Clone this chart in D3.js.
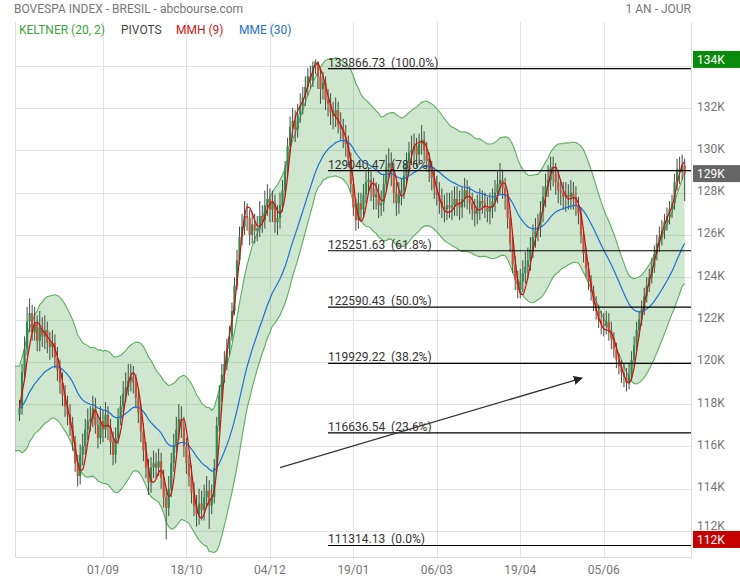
<!DOCTYPE html>
<html><head><meta charset="utf-8">
<script src="https://cdn.jsdelivr.net/npm/d3@7/dist/d3.min.js"></script>
<style>
body{margin:0;background:#fff;}
svg{display:block;font-family:Roboto,"Noto Sans",sans-serif;}
</style>
</head><body>
<svg id="chart" width="740" height="580"></svg>
<script>
// ---------- DATA (prices in thousands of points) ----------
const title = "BOVESPA INDEX - BRESIL - abcbourse.com";
const period = "1 AN - JOUR";
const tickLabels = ["01/09","18/10","04/12","19/01","06/03","19/04","05/06"];
const tickIndex  = [33,66,99,132,165,198,231];
const yGridValues = [112,114,116,118,120,122,124,126,128,130,132,134];
const yLabelValues = [112,114,116,118,120,122,124,126,128,130,132];

const opens = [117.5,117.8,119.5,120.6,121.9,122.3,121.4,121.8,121.0,121.6,
121.2,121.5,120.9,120.7,120.9,120.2,119.6,119.0,118.4,117.9,
117.5,117.0,116.2,115.2,114.6,115.6,116.0,116.8,117.2,117.3,
117.8,117.0,116.4,117.2,116.8,117.5,116.9,116.2,115.6,116.4,
117.3,117.9,118.5,118.8,119.1,119.3,119.0,118.3,117.6,116.7,
115.8,115.0,114.3,115.0,115.2,115.0,115.3,114.5,113.6,113.1,
114.0,115.2,116.0,116.8,117.3,116.9,116.0,115.2,114.6,113.8,
113.2,112.8,113.3,113.0,113.6,113.9,113.2,113.6,115.0,117.0,
118.4,119.4,119.9,120.6,121.2,122.4,123.6,124.8,125.9,126.4,
126.9,126.8,126.0,126.5,126.2,126.3,126.9,126.7,127.4,127.7,
127.2,127.5,126.6,126.8,127.4,128.1,129.0,130.2,131.1,131.4,
131.0,131.7,132.1,132.5,133.0,133.5,133.3,134.0,134.2,133.5,
132.9,133.2,132.4,132.2,131.8,131.6,131.9,131.2,131.0,130.6,
130.3,129.6,128.4,127.3,126.7,127.5,127.2,127.9,128.5,128.6,
128.2,127.8,127.9,127.4,127.5,128.4,129.2,129.4,128.9,128.0,
127.5,127.9,128.1,128.8,129.4,129.9,130.0,130.2,129.8,130.3,
130.5,130.0,129.5,129.0,128.7,128.2,127.9,127.6,127.3,127.2,
127.4,127.3,127.4,127.7,127.5,127.3,127.7,128.1,127.8,127.5,
127.2,127.0,127.3,127.6,127.5,127.3,127.1,127.3,127.6,128.0,
128.4,128.6,128.2,127.8,126.8,125.6,124.6,123.9,123.4,123.8,
124.2,124.5,124.8,125.3,125.9,126.2,126.4,127.1,127.8,128.3,
128.6,129.2,128.9,128.5,128.1,128.0,127.8,127.9,127.8,128.0,
127.8,127.4,127.0,126.0,125.1,124.4,123.8,123.3,122.8,122.4,
122.0,121.8,121.7,121.9,121.5,121.1,120.6,120.1,119.8,119.5,
119.3,119.0,119.4,120.1,120.8,121.5,122.0,122.5,123.1,123.6,
124.0,124.5,125.1,125.6,125.9,126.2,126.6,126.9,127.2,127.5,
128.5,129.1,129.0,129.3];

const highs = [118.2,119.9,121.2,122.6,123.0,122.7,122.6,122.2,122.4,122.1,
122.2,121.9,121.4,121.5,121.3,120.7,120.1,119.5,118.9,118.4,
118.0,117.4,116.5,115.6,116.1,116.6,117.3,117.8,117.9,118.4,
118.3,117.5,117.9,117.7,118.1,117.9,117.3,116.7,116.9,117.8,
118.4,119.1,119.5,119.9,119.9,119.8,119.4,118.7,118.0,117.1,
116.2,115.4,115.5,115.8,115.7,115.9,115.7,114.9,114.0,114.6,
115.7,116.6,117.4,118.0,117.9,117.4,116.4,115.6,115.1,114.3,
113.7,114.0,113.9,114.2,114.6,114.4,114.2,115.4,117.4,118.9,
119.9,120.5,121.1,121.7,122.8,124.0,125.3,126.4,127.0,127.6,
127.5,127.2,127.1,127.0,126.9,127.6,127.4,128.1,128.4,128.2,
128.1,127.9,127.4,128.0,128.6,129.5,130.6,131.6,132.0,131.9,
132.2,132.7,133.0,133.5,133.9,134.0,134.2,134.3,134.2,133.8,
133.7,133.5,132.9,132.7,132.3,132.5,132.3,131.8,131.5,131.2,
130.7,129.9,128.7,127.7,128.0,128.0,128.4,129.0,129.2,129.0,
128.7,128.5,128.4,128.1,128.9,129.8,130.1,129.9,129.4,128.5,
128.5,128.7,129.4,129.9,130.4,130.7,130.8,130.6,130.8,131.2,
130.9,130.4,129.9,129.5,129.2,128.8,128.5,128.2,127.9,128.0,
128.0,128.1,128.3,128.3,128.1,128.3,128.7,128.6,128.3,128.0,
127.7,127.9,128.2,128.1,128.0,127.8,128.0,128.2,128.6,129.0,
129.4,129.1,128.7,128.1,127.1,125.9,125.0,124.3,124.4,124.8,
125.2,125.4,125.9,126.5,126.8,127.0,127.6,128.3,128.9,129.3,
129.7,129.7,129.4,129.0,128.6,128.5,128.5,128.4,128.6,128.5,
128.3,127.8,127.3,126.3,125.4,124.7,124.1,123.6,123.1,122.7,
122.4,122.3,122.4,122.3,121.9,121.4,120.9,120.4,120.1,119.9,
119.7,119.9,120.5,121.2,121.9,122.4,122.9,123.5,124.0,124.4,
124.9,125.5,126.0,126.4,126.7,127.0,127.3,127.6,127.9,128.9,
129.6,129.7,129.8,129.6];

const lows = [117.2,117.5,119.2,120.3,121.4,121.0,121.0,120.5,120.5,120.7,
120.6,120.4,120.1,120.2,119.7,119.1,118.5,117.9,117.4,117.0,
116.5,115.8,114.8,114.1,114.2,115.1,115.6,116.3,116.7,116.9,
116.6,115.9,116.1,116.2,116.4,116.3,115.6,115.1,115.2,116.1,
117.0,117.6,118.1,118.4,118.6,118.5,117.8,117.1,116.2,115.3,
114.5,113.7,113.8,114.5,114.5,114.6,114.0,113.1,111.6,112.7,
113.6,114.8,115.7,116.3,116.4,115.5,114.7,114.1,113.3,112.7,
112.2,112.3,112.5,112.5,113.1,112.1,112.8,113.3,114.8,116.7,
118.1,119.0,119.6,120.3,121.0,122.2,123.4,124.6,125.5,126.0,
126.2,125.5,125.6,125.6,125.7,125.9,126.1,126.3,126.9,126.6,
126.6,126.1,126.0,126.3,127.1,127.8,128.8,129.9,130.6,130.4,
130.6,131.3,131.7,132.1,132.6,132.9,133.0,133.6,132.9,132.2,
132.4,131.9,131.6,131.2,131.0,131.1,130.8,130.5,130.1,129.7,
129.2,128.0,126.9,126.2,126.3,126.7,126.9,127.5,128.0,127.6,
127.2,127.2,126.8,126.9,127.1,128.1,128.7,128.3,127.5,126.9,
127.0,127.4,127.7,128.4,128.9,129.3,129.4,129.2,129.3,129.8,
129.5,129.0,128.5,128.1,127.7,127.4,127.0,126.8,126.6,126.7,
126.8,126.7,126.9,126.9,126.7,126.8,127.3,127.2,127.0,126.7,
126.4,126.5,126.7,127.0,126.8,126.6,126.5,126.8,127.1,127.5,
127.9,127.7,127.2,126.3,125.2,124.2,123.4,123.0,123.0,123.3,
123.7,123.9,124.3,124.9,125.4,125.7,125.9,126.6,127.3,127.8,
128.1,128.3,127.9,127.5,127.4,127.2,127.1,127.2,127.2,127.2,
126.9,126.5,125.6,124.7,124.0,123.4,122.9,122.4,122.0,121.6,
121.3,121.2,121.3,121.0,120.6,120.2,119.7,119.4,119.0,118.8,
118.6,118.7,119.1,119.8,120.5,121.2,121.7,122.2,122.8,123.3,
123.7,124.2,124.8,125.2,125.5,125.8,126.2,126.5,126.8,127.2,
128.1,128.4,128.6,127.6];

const closes = [117.8,119.5,120.6,121.9,122.3,121.4,121.8,121.0,121.6,121.2,
121.5,120.9,120.7,120.9,120.2,119.6,119.0,118.4,117.9,117.5,
117.0,116.2,115.2,114.6,115.6,116.0,116.8,117.2,117.3,117.8,
117.0,116.4,117.2,116.8,117.5,116.9,116.2,115.6,116.4,117.3,
117.9,118.5,118.8,119.1,119.3,119.0,118.3,117.6,116.7,115.8,
115.0,114.3,115.0,115.2,115.0,115.3,114.5,113.6,113.1,114.0,
115.2,116.0,116.8,117.3,116.9,116.0,115.2,114.6,113.8,113.2,
112.8,113.3,113.0,113.6,113.9,113.2,113.6,115.0,117.0,118.4,
119.4,119.9,120.6,121.2,122.4,123.6,124.8,125.9,126.4,126.9,
126.8,126.0,126.5,126.2,126.3,126.9,126.7,127.4,127.7,127.2,
127.5,126.6,126.8,127.4,128.1,129.0,130.2,131.1,131.4,131.0,
131.7,132.1,132.5,133.0,133.5,133.3,134.0,134.2,133.5,132.9,
133.2,132.4,132.2,131.8,131.6,131.9,131.2,131.0,130.6,130.3,
129.6,128.4,127.3,126.7,127.5,127.2,127.9,128.5,128.6,128.2,
127.8,127.9,127.4,127.5,128.4,129.2,129.4,128.9,128.0,127.5,
127.9,128.1,128.8,129.4,129.9,130.0,130.2,129.8,130.3,130.5,
130.0,129.5,129.0,128.7,128.2,127.9,127.6,127.3,127.2,127.4,
127.3,127.4,127.7,127.5,127.3,127.7,128.1,127.8,127.5,127.2,
127.0,127.3,127.6,127.5,127.3,127.1,127.3,127.6,128.0,128.4,
128.6,128.2,127.8,126.8,125.6,124.6,123.9,123.4,123.8,124.2,
124.5,124.8,125.3,125.9,126.2,126.4,127.1,127.8,128.3,128.6,
129.2,128.9,128.5,128.1,128.0,127.8,127.9,127.8,128.0,127.8,
127.4,127.0,126.0,125.1,124.4,123.8,123.3,122.8,122.4,122.0,
121.8,121.7,121.9,121.5,121.1,120.6,120.1,119.8,119.5,119.3,
119.0,119.4,120.1,120.8,121.5,122.0,122.5,123.1,123.6,124.0,
124.5,125.1,125.6,125.9,126.2,126.6,126.9,127.2,127.5,128.5,
129.1,129.0,129.3,128.9];

const pivotLevels = [133866.73,129040.47,125251.63,122590.43,119929.22,116636.54,111314.13];
const pivotPcts   = ["100.0%","78.6%","61.8%","50.0%","38.2%","23.6%","0.0%"];
const pivotStartIndex = 122;
const arrowFrom = {i:103, v:115.0};
const arrowTo   = {i:222.4, v:119.23};
const keltnerPeriod = 20, keltnerMult = 2, hullPeriod = 9, emaPeriod = 30;

// ---------- INDICATORS ----------
function ema(vals, n){ const k=2/(n+1); const out=[]; vals.forEach((v,i)=>{ out.push(i===0?v:v*k+out[i-1]*(1-k)); }); return out; }
function wma(vals, n){ return vals.map((v,i)=>{ let s=0,w=0; const len=Math.min(n,i+1); for(let j=0;j<len;j++){ const wt=len-j; s+=vals[i-j]*wt; w+=wt; } return s/w; }); }
const tr = closes.map((c,i)=> i===0 ? highs[0]-lows[0] : Math.max(highs[i]-lows[i], Math.abs(highs[i]-closes[i-1]), Math.abs(lows[i]-closes[i-1])));
const kMid = ema(closes, keltnerPeriod);
const atr = ema(tr, keltnerPeriod);
const kUp = kMid.map((m,i)=>m+keltnerMult*atr[i]);
const kLo = kMid.map((m,i)=>m-keltnerMult*atr[i]);
const w1 = wma(closes, Math.round(hullPeriod/2)), w2 = wma(closes, hullPeriod);
const hull = wma(w1.map((v,i)=>2*v-w2[i]), Math.round(Math.sqrt(hullPeriod)));
const ema30 = ema(closes, emaPeriod);

// ---------- LAYOUT ----------
const P = {left:15, right:691, top:22, bottom:557};
const x = d3.scaleLinear().domain([-1.78, 265.5]).range([P.left, P.right]);
const y = d3.scaleLinear().domain([110.77, 136.07]).range([P.bottom, P.top]);
const svg = d3.select("#chart");

svg.append("defs").append("clipPath").attr("id","plot")
  .append("rect").attr("x",P.left).attr("y",P.top).attr("width",P.right-P.left).attr("height",P.bottom-P.top);

const grid = svg.append("g").attr("stroke","#e2e2e2").attr("stroke-width",1).attr("shape-rendering","crispEdges");
yGridValues.forEach(v=>{ const yy=Math.round(y(v))+0.5; grid.append("line").attr("x1",P.left).attr("x2",P.right).attr("y1",yy).attr("y2",yy); });
tickIndex.forEach(t=>{ const xx=Math.round(x(t))+0.5; grid.append("line").attr("x1",xx).attr("x2",xx).attr("y1",P.top).attr("y2",P.bottom); });
const frame = svg.append("g").attr("stroke","#dcdcdc").attr("shape-rendering","crispEdges");
frame.append("line").attr("x1",P.left+0.5).attr("x2",P.left+0.5).attr("y1",P.top).attr("y2",P.bottom+0.5);
frame.append("line").attr("x1",P.right+0.5).attr("x2",P.right+0.5).attr("y1",P.top).attr("y2",P.bottom+0.5);
frame.append("line").attr("x1",P.left).attr("x2",P.right+0.5).attr("y1",P.bottom+0.5).attr("y2",P.bottom+0.5);

const plot = svg.append("g").attr("clip-path","url(#plot)");
const idx = closes.map((_,i)=>i);
const bandIdx = [x.domain()[0]].concat(idx);
const bandVal = (arr,i)=> arr[Math.max(0,Math.round(i))];
plot.append("path").datum(bandIdx)
  .attr("d", d3.area().x(i=>x(i)).y0(i=>y(bandVal(kLo,i))).y1(i=>y(bandVal(kUp,i))))
  .attr("fill","rgba(60,160,60,0.25)");
[kUp,kLo].forEach(arr=>{
  plot.append("path").datum(bandIdx).attr("d", d3.line().x(i=>x(i)).y(i=>y(bandVal(arr,i))))
    .attr("fill","none").attr("stroke","#5cad5c").attr("stroke-width",1.1);
});

// candles
const cg = plot.append("g");
idx.forEach(i=>{
  const up = closes[i] >= opens[i];
  const cx = x(i);
  cg.append("line").attr("x1",cx).attr("x2",cx).attr("y1",y(highs[i])).attr("y2",y(lows[i]))
    .attr("stroke","#3f4f40").attr("stroke-width",1);
  const top = y(Math.max(opens[i],closes[i])), bot = y(Math.min(opens[i],closes[i]));
  cg.append("rect").attr("x",cx-1.1).attr("width",2.2).attr("y",top).attr("height",Math.max(1,bot-top))
    .attr("fill", up ? "#2e8b50" : "#c0553b");
});

plot.append("path").datum(idx).attr("d", d3.line().x(i=>x(i)).y(i=>y(ema30[i])))
  .attr("fill","none").attr("stroke","#1f6fd6").attr("stroke-width",1.2);
plot.append("path").datum(idx).attr("d", d3.line().curve(d3.curveMonotoneX).x(i=>x(i)).y(i=>y(hull[i])))
  .attr("fill","none").attr("stroke","#cc0f0f").attr("stroke-width",1.2);

// pivots
const pg = svg.append("g");
pivotLevels.forEach((v,k)=>{
  const yy = y(v/1000);
  pg.append("line").attr("x1",x(pivotStartIndex)).attr("x2",P.right).attr("y1",yy).attr("y2",yy)
    .attr("stroke","#000").attr("stroke-width",1.2);
  pg.append("text").attr("x",x(pivotStartIndex)).attr("y",yy-2).attr("font-size",12).attr("fill","#333")
    .attr("xml:space","preserve").style("white-space","pre")
    .text(v.toFixed(2)+"  ("+pivotPcts[k]+")");
});

// arrow
svg.append("defs").append("marker").attr("id","ah").attr("viewBox","0 0 10 10").attr("refX",9).attr("refY",5)
  .attr("markerWidth",9).attr("markerHeight",9).attr("markerUnits","userSpaceOnUse").attr("orient","auto")
  .append("path").attr("d","M0,0L10,5L0,10z").attr("fill","#222");
svg.append("line").attr("x1",x(arrowFrom.i)).attr("y1",y(arrowFrom.v)).attr("x2",x(arrowTo.i)).attr("y2",y(arrowTo.v))
  .attr("stroke","#333").attr("stroke-width",1.3).attr("marker-end","url(#ah)");

// value boxes (computed first so tick labels can avoid them)
const axisFont = 12;
const maxHigh = d3.max(highs), minLow = d3.min(lows), lastClose = closes[closes.length-1];
const boxes = [[maxHigh,"#0a8a0a"],[lastClose,"#666666"],[minLow,"#c40000"]].map(([v,col])=>({v,col,top:y(v)-8.5,bot:y(v)+8.5}));

// axes labels
yLabelValues.forEach(v=>{
  let base = y(v)+2.5;
  boxes.forEach(b=>{ if(base>b.top && base-9<b.top && y(v)<b.top+4) base=b.top-0.5; });
  svg.append("text").attr("x",697).attr("y",base).attr("font-size",axisFont).attr("fill","#757575").text(v+"K");
});
tickIndex.forEach((t,k)=>{
  svg.append("text").attr("x",x(t)).attr("y",574).attr("text-anchor","middle").attr("font-size",axisFont).attr("fill","#757575").text(tickLabels[k]);
});

boxes.forEach(b=>{
  svg.append("rect").attr("x",693).attr("y",b.top).attr("width",47).attr("height",17).attr("fill",b.col);
  svg.append("text").attr("x",697).attr("y",y(b.v)+4.3).attr("font-size",axisFont).attr("fill","#fff").text(Math.round(b.v)+"K");
});

// header & legend
svg.append("text").attr("x",14).attr("y",12.5).attr("font-size",12).attr("fill","#777").text(title);
svg.append("text").attr("x",691).attr("y",12.5).attr("text-anchor","end").attr("font-size",12).attr("fill","#777").text(period);
const legend = [["KELTNER (20, 2)","#3aa53a",19],["PIVOTS","#444",121],["MMH (9)","#c81818",176],["MME (30)","#1f6fd6",239]];
legend.forEach(([t,c,lx])=> svg.append("text").attr("x",lx).attr("y",33.5).attr("font-size",12).attr("fill",c).text(t));
</script>
</body></html>
